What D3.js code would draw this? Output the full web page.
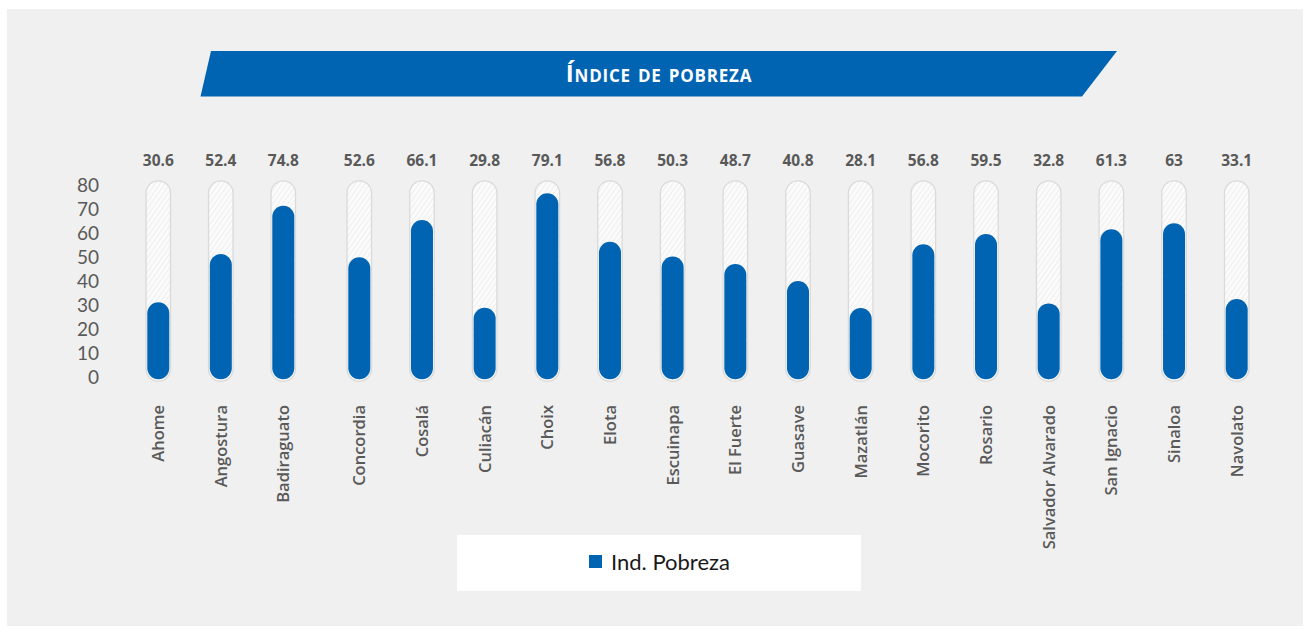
<!DOCTYPE html>
<html>
<head>
<meta charset="utf-8">
<script src="https://cdn.jsdelivr.net/npm/d3@7"></script>
<style>
  html, body { margin: 0; padding: 0; background: #ffffff; }
  svg { display: block; }
</style>
</head>
<body>
<div class="chart-wrapper"></div>
<script>
// categories (municipios)
const municipios = ['Ahome', 'Angostura', 'Badiraguato', 'Concordia', 'Cosalá', 'Culiacán', 'Choix', 'Elota',
    'Escuinapa', 'El Fuerte', 'Guasave', 'Mazatlán', 'Mocorito', 'Rosario', 'Salvador Alvarado',
    'San Ignacio', 'Sinaloa', 'Navolato'];

// printed value labels above each bar
const valueLabels = ['30.6', '52.4', '74.8', '52.6', '66.1', '29.8', '79.1', '56.8', '50.3', '48.7', '40.8',
    '28.1', '56.8', '59.5', '32.8', '61.3', '63', '33.1'];

// bar heights as read against the y axis
const barValues = [31.3, 51.4, 71.5, 50.0, 65.5, 29.0, 76.7, 56.5, 50.3, 47.2, 40.1, 28.9, 55.4, 59.7, 30.8,
    61.7, 64.2, 32.6];

const yTicks = [0, 10, 20, 30, 40, 50, 60, 70, 80];
const title = 'Índice de pobreza';
const seriesName = 'Ind. Pobreza';

const width = 1310, height = 629;
const blue = '#0064b2';

const svg = d3.select('.chart-wrapper')
    .append('svg')
    .attr('width', width)
    .attr('height', height);

// hatch pattern for the empty tracks
const defs = svg.append('defs');
const pat = defs.append('pattern')
    .attr('id', 'hatch')
    .attr('patternUnits', 'userSpaceOnUse')
    .attr('width', 4).attr('height', 4)
    .attr('patternTransform', 'rotate(35)');
pat.append('rect').attr('width', 4).attr('height', 4).attr('fill', '#fbfbfb');
pat.append('line').attr('x1', 0).attr('y1', 0).attr('x2', 0).attr('y2', 4)
    .attr('stroke', '#e6e6e6').attr('stroke-width', 1.2);

// panel background
svg.append('rect')
    .attr('x', 7).attr('y', 9)
    .attr('width', 1296).attr('height', 617)
    .attr('fill', '#f0f0f0');

// title banner
svg.append('path')
    .attr('d', 'M211,51 L1117,51 L1082,96.5 L200.5,96.5 Z')
    .attr('fill', blue);
svg.append('text')
    .attr('x', 659).attr('y', 82)
    .attr('text-anchor', 'middle')
    .attr('font-family', '"Open Sans", sans-serif')
    .attr('font-weight', 700)
    .attr('font-size', 24)
    .style('font-variant', 'small-caps')
    .attr('letter-spacing', 0.8)
    .attr('fill', '#ffffff')
    .text(title);

// scales
const idx = d3.range(municipios.length);
const x = d3.scaleLinear()
    .domain([0, 2, 3, 17])
    .range([158.3, 283.3, 359.3, 1236.7]);
const y = d3.scaleLinear()
    .domain([0, 80])
    .range([377.3, 185.3]);

// y axis labels
const yAxis = svg.append('g')
    .attr('transform', 'translate(99,0)')
    .call(d3.axisLeft(y).tickValues(yTicks).tickSize(0).tickPadding(0));
yAxis.select('.domain').remove();
yAxis.selectAll('text')
    .attr('font-family', 'Lato, sans-serif')
    .attr('font-size', 19)
    .attr('fill', '#595959');

// tracks
const trackW = 24.5, barW = 22;
svg.append('g').selectAll('rect')
    .data(idx)
    .join('rect')
    .attr('x', i => x(i) - trackW / 2)
    .attr('y', y(80) - 4.5)
    .attr('width', trackW)
    .attr('height', y(0) - y(80) + 8.5)
    .attr('rx', trackW / 2)
    .attr('fill', 'url(#hatch)')
    .attr('stroke', '#dadada')
    .attr('stroke-width', 1.3);

// bars
svg.append('g').selectAll('rect')
    .data(idx)
    .join('rect')
    .attr('x', i => x(i) - barW / 2)
    .attr('y', i => y(barValues[i]))
    .attr('width', barW)
    .attr('height', i => y(0) + 2 - y(barValues[i]))
    .attr('rx', barW / 2)
    .attr('fill', blue);

// value labels
svg.append('g').selectAll('text')
    .data(idx)
    .join('text')
    .attr('x', i => x(i))
    .attr('y', 166)
    .attr('text-anchor', 'middle')
    .attr('font-family', '"Open Sans", sans-serif')
    .attr('font-weight', 700)
    .attr('font-size', 15.5)
    .attr('fill', '#595959')
    .text(i => valueLabels[i]);

// category labels
svg.append('g').selectAll('text')
    .data(idx)
    .join('text')
    .attr('transform', i => `translate(${x(i)},405) rotate(-90)`)
    .attr('dy', '0.36em')
    .attr('text-anchor', 'end')
    .attr('font-family', '"Open Sans", sans-serif')
    .attr('font-weight', 600)
    .attr('font-size', 16.5)
    .attr('fill', '#595959')
    .text(i => municipios[i]);

// legend
svg.append('rect')
    .attr('x', 457).attr('y', 535)
    .attr('width', 404).attr('height', 56)
    .attr('fill', '#ffffff');
svg.append('rect')
    .attr('x', 589).attr('y', 555)
    .attr('width', 13).attr('height', 13)
    .attr('fill', blue);
svg.append('text')
    .attr('x', 611).attr('y', 569.5)
    .attr('font-family', 'Lato, sans-serif')
    .attr('font-size', 22)
    .attr('fill', '#1a1a1a')
    .text(seriesName);
</script>
</body>
</html>
